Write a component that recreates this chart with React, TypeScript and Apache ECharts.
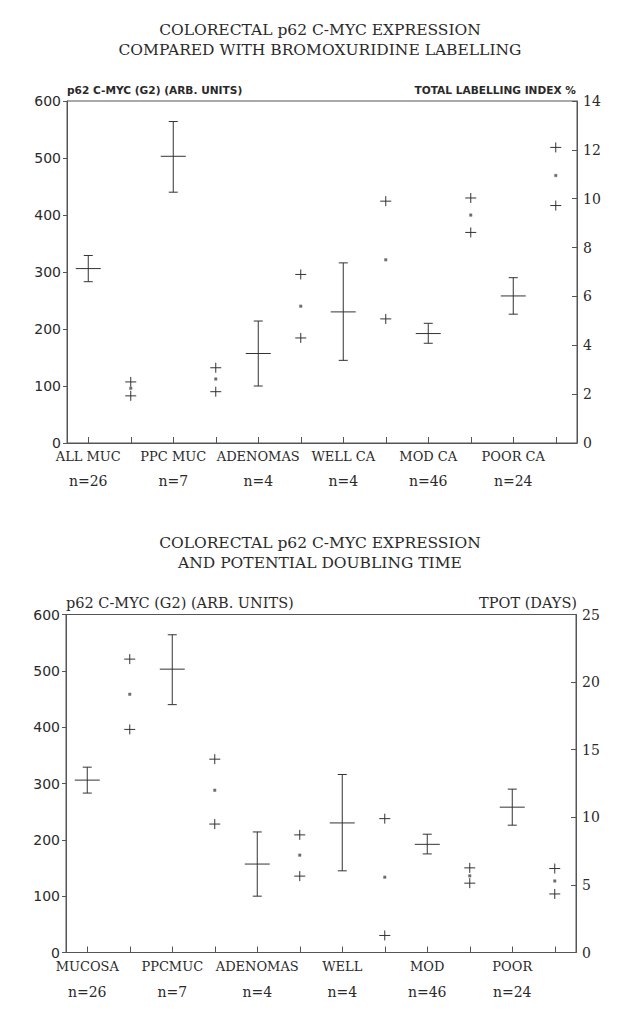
import React, { useEffect, useRef } from 'react';
import * as echarts from 'echarts';

// ---- data ----
const categoriesTop = ['ALL MUC', 'PPC MUC', 'ADENOMAS', 'WELL CA', 'MOD CA', 'POOR CA'];
const categoriesBottom = ['MUCOSA', 'PPCMUC', 'ADENOMAS', 'WELL', 'MOD', 'POOR'];
const groupSizes = ['n=26', 'n=7', 'n=4', 'n=4', 'n=46', 'n=24'];

// p62 c-myc (G2), arbitrary units: mean and error range
const mycMean = [306, 503, 157, 230, 192, 258];
const mycLow = [283, 440, 100, 145, 175, 226];
const mycHigh = [329, 564, 214, 316, 210, 290];

// total labelling index %
const liHigh = [2.5, 3.08, 6.9, 9.9, 10.03, 12.1];
const liMid = [2.24, 2.62, 5.6, 7.5, 9.33, 10.95];
const liLow = [1.93, 2.1, 4.3, 5.08, 8.62, 9.72];

// Tpot (days)
const tpotHigh = [21.7, 14.3, 8.7, 9.9, 6.26, 6.21];
const tpotMid = [19.1, 12.0, 7.2, 5.57, 5.67, 5.29];
const tpotLow = [16.5, 9.5, 5.65, 1.26, 5.13, 4.33];

const slots = ['0', '1', '2', '3', '4', '5', '6', '7', '8', '9', '10', '11'];

const INK = '#2a2a2a';
const AXIS = '#555';
const SERIF = 'DejaVu Serif';
const SANS = 'DejaVu Sans';

function makeXAxis(gridIndex: number, names: string[], margin: number) {
  return {
    type: 'category',
    gridIndex,
    data: slots,
    boundaryGap: true,
    axisLine: { show: true, lineStyle: { color: AXIS, width: 1 } },
    axisTick: { show: true, alignWithLabel: true, inside: true, length: 6, interval: 0, lineStyle: { color: AXIS } },
    splitLine: { show: false },
    axisLabel: {
      interval: 0,
      margin,
      color: INK,
      formatter: (_v: string, i: number) =>
        i % 2 === 0 ? `{a|${names[i / 2]}}\n{b|${groupSizes[i / 2]}}` : '',
      rich: {
        a: { fontFamily: SERIF, fontSize: 13, lineHeight: 18, color: INK },
        b: { fontFamily: SERIF, fontSize: 14, lineHeight: 32, color: INK },
      },
    },
  };
}

function makeYAxis(gridIndex: number, max: number, interval: number, right: boolean) {
  return {
    type: 'value',
    gridIndex,
    position: right ? 'right' : 'left',
    min: 0,
    max,
    interval,
    axisLine: { show: true, lineStyle: { color: AXIS, width: 1 } },
    axisTick: { show: true, inside: right, length: right ? 5 : 4, lineStyle: { color: AXIS } },
    splitLine: { show: false },
    axisLabel: {
      margin: 6,
      color: INK,
      fontFamily: right ? SERIF : SANS,
      fontSize: 14,
    },
  };
}

const stroke = { stroke: '#333', lineWidth: 1, fill: 'none' };

function errorBarItem(_params: any, api: any) {
  const x = api.value(0);
  const pm = api.coord([x, api.value(1)]);
  const pl = api.coord([x, api.value(2)]);
  const ph = api.coord([x, api.value(3)]);
  const cx = pm[0];
  return {
    type: 'group',
    children: [
      { type: 'line', shape: { x1: cx, y1: ph[1], x2: cx, y2: pl[1] }, style: stroke },
      { type: 'line', shape: { x1: cx - 4.5, y1: ph[1], x2: cx + 4.5, y2: ph[1] }, style: stroke },
      { type: 'line', shape: { x1: cx - 4.5, y1: pl[1], x2: cx + 4.5, y2: pl[1] }, style: stroke },
      { type: 'line', shape: { x1: cx - 12.5, y1: pm[1], x2: cx + 12.5, y2: pm[1] }, style: stroke },
    ],
  };
}

function plusItem(_params: any, api: any) {
  const x = api.value(0);
  const ph = api.coord([x, api.value(1)]);
  const pm = api.coord([x, api.value(2)]);
  const pl = api.coord([x, api.value(3)]);
  const cx = ph[0];
  const plus = (y: number) => [
    { type: 'line', shape: { x1: cx - 5.5, y1: y, x2: cx + 5.5, y2: y }, style: stroke },
    { type: 'line', shape: { x1: cx, y1: y - 5, x2: cx, y2: y + 5 }, style: stroke },
  ];
  return {
    type: 'group',
    children: [
      ...plus(ph[1]),
      ...plus(pl[1]),
      { type: 'rect', shape: { x: cx - 1.3, y: pm[1] - 1.3, width: 2.6, height: 2.6 }, style: { fill: '#666', stroke: '#888', lineWidth: 0.5 } },
    ],
  };
}

const errData = mycMean.map((m, i) => [2 * i, m, mycLow[i], mycHigh[i]]);
const liData = liHigh.map((h, i) => [2 * i + 1, h, liMid[i], liLow[i]]);
const tpotData = tpotHigh.map((h, i) => [2 * i + 1, h, tpotMid[i], tpotLow[i]]);

function txt(text: string, x: number, y: number, font: string, align: string) {
  return {
    type: 'text',
    style: { text, x, y, font, textAlign: align, textVerticalAlign: 'middle', fill: INK },
  };
}

const option: any = {
  animation: false,
  backgroundColor: '#fff',
  grid: [
    { left: 67, top: 101, width: 510, height: 342, show: true, borderColor: AXIS, borderWidth: 1 },
    { left: 66, top: 614.5, width: 510, height: 338, show: true, borderColor: AXIS, borderWidth: 1 },
  ],
  xAxis: [makeXAxis(0, categoriesTop, 4), makeXAxis(1, categoriesBottom, 5)],
  yAxis: [
    makeYAxis(0, 600, 100, false),
    makeYAxis(0, 14, 2, true),
    makeYAxis(1, 600, 100, false),
    makeYAxis(1, 25, 5, true),
  ],
  series: [
    { type: 'custom', name: 'c-myc top', xAxisIndex: 0, yAxisIndex: 0, data: errData, encode: { x: 0, y: [1, 2, 3] }, renderItem: errorBarItem },
    { type: 'custom', name: 'labelling index', xAxisIndex: 0, yAxisIndex: 1, data: liData, encode: { x: 0, y: [1, 2, 3] }, renderItem: plusItem },
    { type: 'custom', name: 'c-myc bottom', xAxisIndex: 1, yAxisIndex: 2, data: errData, encode: { x: 0, y: [1, 2, 3] }, renderItem: errorBarItem },
    { type: 'custom', name: 'tpot', xAxisIndex: 1, yAxisIndex: 3, data: tpotData, encode: { x: 0, y: [1, 2, 3] }, renderItem: plusItem },
  ],
  graphic: [
    txt('COLORECTAL p62 C-MYC EXPRESSION', 320, 30, `15.5px "${SERIF}"`, 'center'),
    txt('COMPARED WITH BROMOXURIDINE LABELLING', 320, 50, `15.5px "${SERIF}"`, 'center'),
    txt('p62 C-MYC (G2) (ARB. UNITS)', 67, 90, `bold 10.6px "${SANS}"`, 'left'),
    txt('TOTAL LABELLING INDEX %', 576, 90, `bold 10.6px "${SANS}"`, 'right'),
    txt('COLORECTAL p62 C-MYC EXPRESSION', 320, 543, `15.5px "${SERIF}"`, 'center'),
    txt('AND POTENTIAL DOUBLING TIME', 320, 563, `15.5px "${SERIF}"`, 'center'),
    txt('p62 C-MYC (G2) (ARB. UNITS)', 66, 603, `14.5px "${SERIF}"`, 'left'),
    txt('TPOT (DAYS)', 577, 603, `14.5px "${SERIF}"`, 'right'),
  ],
};

export default function App() {
  const ref = useRef<HTMLDivElement>(null);
  useEffect(() => {
    document.body.style.margin = '0';
    const chart = echarts.init(ref.current as HTMLDivElement, null, { renderer: 'svg' });
    chart.setOption(option);
    return () => chart.dispose();
  }, []);
  return <div ref={ref} style={{ width: 637, height: 1024, background: '#fff' }} />;
}
